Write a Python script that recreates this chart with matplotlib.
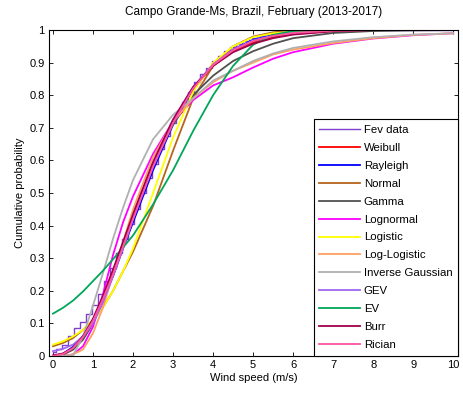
import matplotlib
matplotlib.use("Agg")
import matplotlib.pyplot as plt

plt.rcParams["font.family"] = ["Liberation Sans", "DejaVu Sans"]

# wind speed grid (m/s) for the fitted CDFs
SPEED = [0, 0.25, 0.5, 0.75, 1, 1.25, 1.5, 1.75, 2, 2.5, 3, 3.5, 4, 4.5, 5,
         5.5, 6, 7, 8, 9, 10]

# empirical CDF (step)
FEV_X = [0.0, 0.15, 0.3, 0.45, 0.6, 0.75, 0.9, 1.05, 1.2, 1.35, 1.5, 1.65,
         1.8, 1.95, 2.1, 2.25, 2.4, 2.55, 2.7, 2.85, 3.0, 3.15, 3.3, 3.45,
         3.6, 3.75, 3.9, 4.05, 4.2, 4.35, 4.5, 4.65, 4.8, 5.0, 5.2, 5.4, 5.6,
         5.8, 6.0, 6.4, 6.8, 7.2, 10.0]
FEV_P = [0.012, 0.02, 0.035, 0.06, 0.085, 0.105, 0.13, 0.155, 0.19, 0.23, 0.27,
         0.315, 0.36, 0.405, 0.45, 0.50, 0.545, 0.59, 0.635, 0.675, 0.715,
         0.75, 0.78, 0.81, 0.84, 0.865, 0.885, 0.905, 0.92, 0.935, 0.948,
         0.958, 0.966, 0.975, 0.982, 0.988, 0.992, 0.995, 0.997, 0.999, 1.0,
         1.0, 1.0]

WEIBULL = [0, 0.005, 0.02, 0.055, 0.11, 0.18, 0.26, 0.345, 0.43, 0.59, 0.72,
           0.82, 0.89, 0.935, 0.962, 0.978, 0.988, 0.997, 1, 1, 1]
RAYLEIGH = [0, 0.007, 0.028, 0.062, 0.11, 0.17, 0.245, 0.33, 0.41, 0.57, 0.71,
            0.82, 0.895, 0.94, 0.97, 0.985, 0.993, 0.999, 1, 1, 1]
NORMAL = [0.03, 0.04, 0.055, 0.08, 0.11, 0.15, 0.20, 0.26, 0.32, 0.46, 0.63,
          0.79, 0.89, 0.95, 0.98, 0.993, 0.998, 1, 1, 1, 1]
GAMMA = [0, 0.004, 0.02, 0.05, 0.10, 0.17, 0.25, 0.34, 0.43, 0.59, 0.71, 0.80,
         0.86, 0.905, 0.935, 0.958, 0.975, 0.991, 0.997, 0.999, 1]
LOGNORMAL = [0, 0, 0.005, 0.03, 0.09, 0.19, 0.31, 0.41, 0.49, 0.62, 0.72,
             0.785, 0.83, 0.855, 0.885, 0.912, 0.932, 0.958, 0.974, 0.984,
             0.99]
LOGISTIC = [0.035, 0.045, 0.06, 0.08, 0.11, 0.15, 0.20, 0.26, 0.33, 0.50,
            0.67, 0.81, 0.90, 0.95, 0.978, 0.99, 0.995, 0.999, 1, 1, 1]
LOGLOGISTIC = [0, 0, 0.005, 0.02, 0.07, 0.15, 0.25, 0.35, 0.45, 0.61, 0.72,
               0.79, 0.84, 0.875, 0.90, 0.925, 0.94, 0.96, 0.975, 0.985, 0.99]
INVGAUSS = [0, 0, 0.002, 0.06, 0.155, 0.255, 0.36, 0.455, 0.54, 0.665, 0.74,
            0.79, 0.845, 0.875, 0.905, 0.928, 0.945, 0.965, 0.978, 0.986, 0.99]
GEV = [0.015, 0.022, 0.035, 0.06, 0.10, 0.165, 0.245, 0.33, 0.42, 0.59, 0.725,
       0.825, 0.895, 0.94, 0.968, 0.983, 0.991, 0.998, 1, 1, 1]
EV = [0.13, 0.148, 0.17, 0.198, 0.23, 0.262, 0.297, 0.333, 0.37, 0.465, 0.57,
      0.69, 0.80, 0.89, 0.955, 0.985, 0.997, 1, 1, 1, 1]
BURR = [0.002, 0.008, 0.025, 0.06, 0.115, 0.185, 0.265, 0.35, 0.435, 0.595,
        0.725, 0.825, 0.89, 0.932, 0.958, 0.975, 0.986, 0.996, 1, 1, 1]
RICIAN = [0, 0.006, 0.024, 0.058, 0.108, 0.175, 0.25, 0.335, 0.42, 0.58, 0.715,
          0.82, 0.893, 0.938, 0.966, 0.982, 0.991, 0.998, 1, 1, 1]

FITS = [
    ("Weibull", WEIBULL, "#ff0000"),
    ("Rayleigh", RAYLEIGH, "#0000ff"),
    ("Normal", NORMAL, "#b5651d"),
    ("Gamma", GAMMA, "#505050"),
    ("Lognormal", LOGNORMAL, "#ff00ff"),
    ("Logistic", LOGISTIC, "#ffff00"),
    ("Log-Logistic", LOGLOGISTIC, "#ffa060"),
    ("Inverse Gaussian", INVGAUSS, "#b0b0b0"),
    ("GEV", GEV, "#a066f0"),
    ("EV", EV, "#00a65a"),
    ("Burr", BURR, "#a0004a"),
    ("Rician", RICIAN, "#ff55a0"),
]

fig = plt.figure(figsize=(4.64, 3.93), dpi=100)
ax = fig.add_axes([0.1056, 0.0941, 0.8815, 0.8295])

ax.step(FEV_X, FEV_P, where="mid", color="#7f3fcf", lw=1.0, label="Fev data")
for name, vals, col in FITS:
    ax.plot(SPEED, vals, color=col, lw=1.3, label=name)

ax.set_xlim(-0.1, 10.12)
ax.set_ylim(0, 1)
ax.set_xticks(range(0, 11))
ax.set_yticks([i / 10 for i in range(11)])
ax.set_yticklabels(["0"] + [f"0.{i}" for i in range(1, 10)] + ["1"])
ax.tick_params(direction="in", top=True, right=True, labelsize=8, length=3,
               width=0.6, pad=3)
for sp in ax.spines.values():
    sp.set_linewidth(0.8)

ax.set_xlabel("Wind speed (m/s)", fontsize=8, labelpad=2)
ax.set_ylabel("Cumulative probability", fontsize=8, labelpad=3)
ax.set_title("Campo Grande-Ms, Brazil, February (2013-2017)", fontsize=8.5,
             pad=11)

leg = ax.legend(loc="lower right", bbox_to_anchor=(1, 0), borderaxespad=0,
                fontsize=8.2, fancybox=False, framealpha=1, edgecolor="black",
                handlelength=3.6, labelspacing=0.7, borderpad=0.5,
                handletextpad=0.3)
leg.get_frame().set_linewidth(0.8)

fig.savefig("out.png", dpi=100)
